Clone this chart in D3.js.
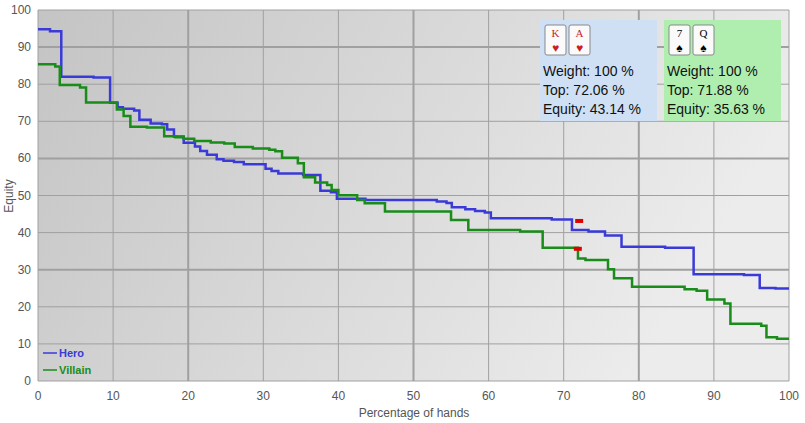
<!DOCTYPE html><html><head><meta charset="utf-8"><script src="https://cdn.jsdelivr.net/npm/d3@7"></script>
<style>body{margin:0;background:#fff}svg{font-family:Arial,"Liberation Sans",sans-serif}</style></head><body><svg id="c" width="805" height="423"></svg>
<script>
const xTicks=[0,10,20,30,40,50,60,70,80,90,100];
const yTicks=[0,10,20,30,40,50,60,70,80,90,100];
const heroX=[0,1.6,3.1,7.4,9.6,10.6,11.3,12.8,13.5,15,16.5,17.2,18.1,19.4,20.9,21.6,22.5,23.8,24.7,26.1,27.4,30.3,31.1,32.0,35.3,37.6,39.0,39.8,43.6,53.1,54.4,55.1,56.9,58.2,59.5,60.3,68.4,71.1,73.3,75.5,77.7,83.5,87.3,94.0,96.1,98.2,100];
const heroY=[94.8,94.3,82.0,81.8,75.0,73.8,73.4,72.9,70.4,69.4,69.2,67.8,65.9,64.2,63.2,62.0,61.0,59.8,59.4,59.0,58.4,57.2,56.6,55.9,55.5,51.3,50.9,49.1,48.8,48.4,48.0,46.8,46.3,45.8,45.4,43.9,43.5,40.7,40.3,39.2,36.2,35.9,28.8,28.6,25.1,24.9,24.9];
const villX=[0,2.3,2.9,5.6,6.4,10.5,11.4,12.3,14.5,16.8,18.3,19.4,20.8,23.0,24.8,26.2,28.6,30.8,31.6,32.5,34.6,35.4,36.9,38.5,39.1,40.0,42.5,43.5,46.2,55.0,57.3,64.2,67.2,71.9,72.9,75.9,76.7,79.1,86.1,87.7,89.1,91.4,92.2,96.3,97.0,98.4,100];
const villY=[85.4,84.8,79.8,79.1,75.1,73.2,71.4,68.5,68.3,66.0,65.7,65.3,64.7,64.3,64.0,63.1,62.7,62.3,61.9,60.2,58.7,54.9,53.5,52.8,51.5,50.1,48.8,47.9,45.7,43.4,40.7,40.3,35.9,33.0,32.6,30.1,27.7,25.4,24.7,24.3,22.0,20.9,15.4,14.9,11.8,11.4,11.4];
const markers=[{top:72.06,eq:43.14},{top:71.88,eq:35.63}];
const boxes=[{cards:[["K","♥"],["A","♥"]],lines:["Weight: 100 %","Top: 72.06 %","Equity: 43.14 %"],fill:"#cfe0f5"},
             {cards:[["7","♠"],["Q","♠"]],lines:["Weight: 100 %","Top: 71.88 %","Equity: 35.63 %"],fill:"#b0eeb0"}];
const series=[{name:"Hero",color:"#3a3ad8"},{name:"Villain",color:"#1a8c1a"}];

const svg=d3.select("#c");
const x=d3.scaleLinear().domain([0,100]).range([38,789]);
const y=d3.scaleLinear().domain([0,100]).range([381,10]);
const defs=svg.append("defs");
const g=defs.append("linearGradient").attr("id","bg").attr("x1","0").attr("y1","0").attr("x2","1").attr("y2","0.3");
g.append("stop").attr("offset","0").attr("stop-color","#c4c4c4");
g.append("stop").attr("offset","1").attr("stop-color","#ececec");
svg.append("rect").attr("x",x(0)).attr("y",y(100)).attr("width",x(100)-x(0)).attr("height",y(0)-y(100)).attr("fill","url(#bg)");
const thick=new Set([20,50,80]), thickY=new Set([30,60,90]);
svg.selectAll(".gx").data(xTicks).join("line").attr("x1",d=>x(d)).attr("x2",d=>x(d)).attr("y1",y(0)).attr("y2",y(100)).attr("stroke","#a0a0a0").attr("stroke-width",d=>thick.has(d)?2:1);
svg.selectAll(".gy").data(yTicks).join("line").attr("y1",d=>y(d)).attr("y2",d=>y(d)).attr("x1",x(0)).attr("x2",x(100)).attr("stroke","#a0a0a0").attr("stroke-width",d=>thickY.has(d)?2:1);
svg.selectAll(".tx").data(xTicks).join("text").attr("x",d=>x(d)).attr("y",400).attr("text-anchor","middle").attr("font-size",12).attr("fill","#555").text(d=>d);
svg.selectAll(".ty").data(yTicks).join("text").attr("x",31).attr("y",d=>y(d)+4).attr("text-anchor","end").attr("font-size",12).attr("fill","#555").text(d=>d);
svg.append("text").attr("x",414).attr("y",417).attr("text-anchor","middle").attr("font-size",12).attr("fill","#555").text("Percentage of hands");
svg.append("text").attr("transform","translate(13,196) rotate(-90)").attr("text-anchor","middle").attr("font-size",12).attr("fill","#555").text("Equity");
const line=d3.line().x(d=>x(d[0])).y(d=>y(d[1])).curve(d3.curveStepAfter);
[[heroX,heroY],[villX,villY]].forEach((s,i)=>{
  svg.append("path").attr("d",line(s[0].map((v,k)=>[v,s[1][k]]))).attr("fill","none").attr("stroke",series[i].color).attr("stroke-width",2.5);
});
markers.forEach(m=>svg.append("rect").attr("x",x(m.top)-4).attr("y",y(m.eq)-2).attr("width",8).attr("height",4).attr("fill","#e00000"));
series.forEach((s,i)=>{
  const yy=357+i*17;
  svg.append("line").attr("x1",43).attr("x2",57).attr("y1",yy-4).attr("y2",yy-4).attr("stroke",s.color).attr("stroke-width",1.5);
  svg.append("text").attr("x",59).attr("y",yy).attr("font-size",11).attr("font-weight","bold").attr("fill",s.color).text(s.name);
});
boxes.forEach((b,i)=>{
  const bx=540+i*124, by=20;
  svg.append("rect").attr("x",bx).attr("y",by).attr("width",117).attr("height",101).attr("fill",b.fill);
  b.cards.forEach((c,j)=>{
    const cx=bx+5+j*24, cy=by+5;
    svg.append("rect").attr("x",cx).attr("y",cy).attr("width",21).attr("height",30).attr("rx",2).attr("fill","#fafafa").attr("stroke","#888");
    const col=c[1]==="♥"?"#cc1f1f":"#000";
    svg.append("text").attr("x",cx+10.5).attr("y",cy+12).attr("text-anchor","middle").attr("font-family","Liberation Serif,serif").attr("font-size",11).attr("fill",col).text(c[0]);
    svg.append("text").attr("x",cx+10.5).attr("y",cy+27).attr("text-anchor","middle").attr("font-size",12).attr("fill",col).text(c[1]);
  });
  b.lines.forEach((t,k)=>svg.append("text").attr("x",bx+3).attr("y",by+56+k*19).attr("font-size",14).attr("fill","#111").text(t));
});
</script></body></html>
